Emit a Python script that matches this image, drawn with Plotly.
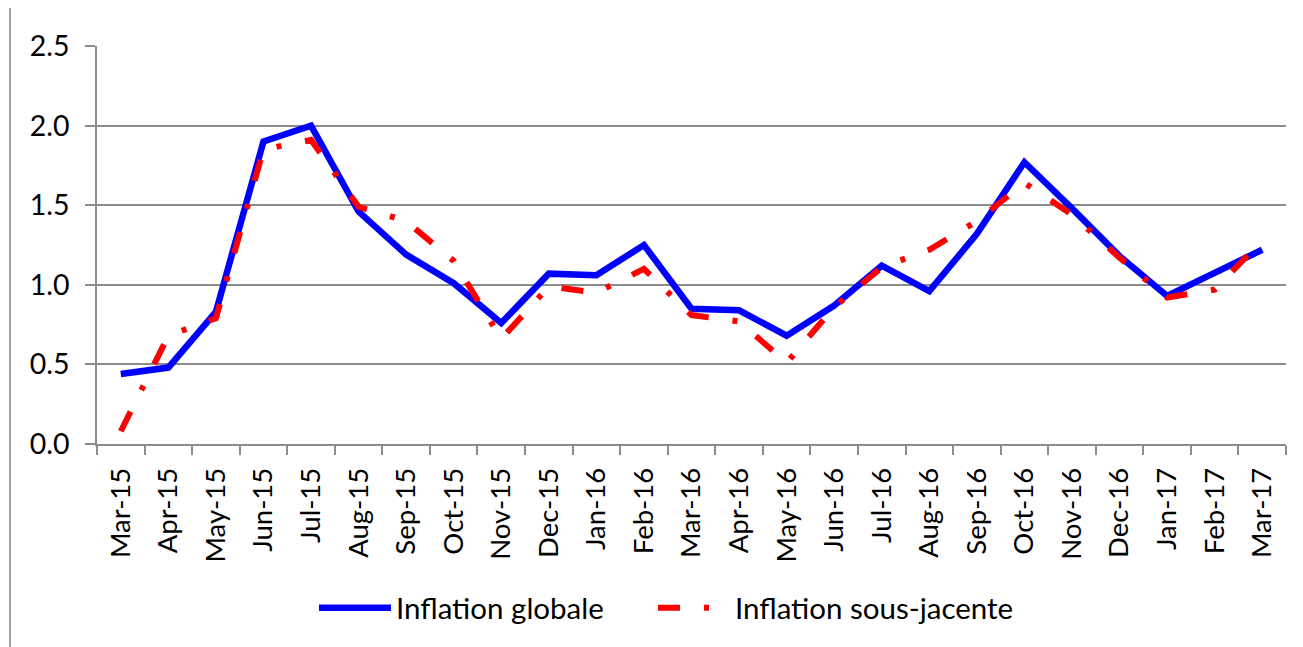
import plotly.graph_objects as go

months = ["Mar-15", "Apr-15", "May-15", "Jun-15", "Jul-15", "Aug-15", "Sep-15", "Oct-15",
          "Nov-15", "Dec-15", "Jan-16", "Feb-16", "Mar-16", "Apr-16", "May-16", "Jun-16",
          "Jul-16", "Aug-16", "Sep-16", "Oct-16", "Nov-16", "Dec-16", "Jan-17", "Feb-17", "Mar-17"]

inflation_globale = [0.44, 0.48, 0.83, 1.90, 2.00, 1.46, 1.19, 1.01, 0.76, 1.07, 1.06, 1.25,
                     0.85, 0.84, 0.68, 0.87, 1.12, 0.96, 1.32, 1.77, 1.48, 1.18, 0.93, 1.07, 1.22]

inflation_sous_jacente = [0.08, 0.68, 0.79, 1.85, 1.91, 1.49, 1.40, 1.15, 0.66, 0.99, 0.95, 1.10,
                          0.81, 0.77, 0.51, 0.86, 1.11, 1.22, 1.40, 1.64, 1.44, 1.17, 0.92, 0.97, 1.28]

y_ticks = [0.0, 0.5, 1.0, 1.5, 2.0, 2.5]

# page body has an 8px margin, so the figure is made 8px smaller each way
OFF = 8
W, H = 1303 - OFF, 647 - OFF
ML, MR, MT, MB = 97 - OFF, 17, 46 - OFF, 203
PW, PH = W - ML - MR, H - MT - MB

FONT = "Lato, Carlito, Calibri, sans-serif"

fig = go.Figure()
fig.add_trace(go.Scatter(
    x=months, y=inflation_globale, mode="lines", name="Inflation globale",
    line=dict(color="#0000FF", width=6.5), legend="legend",
))
fig.add_trace(go.Scatter(
    x=months, y=inflation_sous_jacente, mode="lines", name="Inflation sous-jacente",
    line=dict(color="#FF0000", width=6, dash="22px,24px,5px,24px"), legend="legend2",
))

leg_y = -(608 - OFF - (H - MB)) / PH
leg_common = dict(orientation="h", xanchor="left", y=leg_y, yanchor="middle",
                  font=dict(family=FONT, size=29.5, color="black"),
                  itemwidth=72, bgcolor="rgba(0,0,0,0)")

fig.update_layout(
    width=W, height=H,
    margin=dict(l=ML, r=MR, t=MT, b=MB, pad=0, autoexpand=False),
    paper_bgcolor="white", plot_bgcolor="white",
    font=dict(family=FONT, size=28, color="black"),
    showlegend=True,
    legend=dict(x=(318 - OFF - ML - 4) / PW, **leg_common),
    legend2=dict(x=(657 - OFF - ML - 4) / PW, **leg_common),
    xaxis=dict(
        type="category", range=[-0.5, len(months) - 0.5], automargin=False,
        showgrid=False, showline=True, linecolor="#8c8c8c", linewidth=1.5,
        ticks="outside", tickson="boundaries", ticklen=9, tickcolor="#8c8c8c", tickwidth=1.5,
        tickangle=-90, tickfont=dict(family=FONT, size=27.5, color="black"),
        ticklabelstandoff=11,
    ),
    yaxis=dict(
        range=[0, 2.5], tickvals=y_ticks, tickformat=".1f", automargin=False,
        showgrid=True, gridcolor="#8c8c8c", gridwidth=1.5,
        showline=True, linecolor="#8c8c8c", linewidth=1.5,
        ticks="outside", ticklen=10, tickcolor="#8c8c8c", tickwidth=1.5,
        tickfont=dict(family=FONT, size=28.5, color="black"),
        ticklabelstandoff=10, zeroline=False,
    ),
    shapes=[dict(type="line", xref="paper", yref="paper",
                 x0=(10 - OFF - ML) / PW, x1=(10 - OFF - ML) / PW,
                 y0=-MB / PH, y1=(H - MB) / PH,
                 line=dict(color="#a6a6a6", width=2))],
)

fig.write_html("out.html")
